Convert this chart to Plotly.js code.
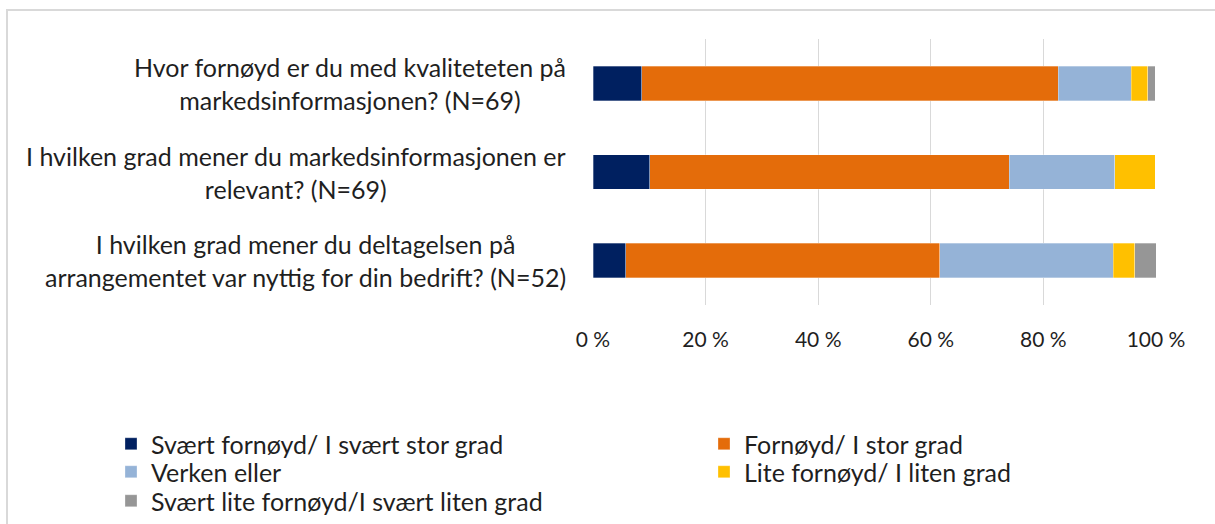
<!DOCTYPE html>
<html>
<head>
<meta charset="utf-8">
<script src="https://cdn.plot.ly/plotly-3.0.1.min.js"></script>
<style>
  html, body { margin: 0; padding: 0; background: #ffffff; }
  #wrap { position: relative; width: 1215px; height: 524px; overflow: hidden; }
  #chart { position: absolute; left: 0; top: 0; width: 1215px; height: 524px; }
  #bt { position: absolute; left: 6px; top: 9px; width: 1209px; height: 2px; background: #d9d9d9; }
  #bl { position: absolute; left: 6px; top: 9px; width: 2px; height: 515px; background: #d9d9d9; }
</style>
</head>
<body>
<div id="wrap">
  <div id="chart"></div>
  <div id="bt"></div>
  <div id="bl"></div>
</div>
<script>
const categories = [
  "Hvor fornøyd er du med kvaliteteten på<br>markedsinformasjonen? (N=69)",
  "I hvilken grad mener du markedsinformasjonen er<br>relevant? (N=69)",
  "I hvilken grad mener du deltagelsen på<br>arrangementet var nyttig for din bedrift? (N=52)"
];
const seriesNames = [
  "Svært fornøyd/ I svært stor grad",
  "Fornøyd/ I stor grad",
  "Verken eller",
  "Lite fornøyd/ I liten grad",
  "Svært lite fornøyd/I svært liten grad"
];
const sværtFornøyd = [8.7, 10.1, 5.8];
const fornøyd = [73.9, 63.8, 55.8];
const verkenEller = [13.0, 18.8, 30.8];
const liteFornøyd = [2.9, 7.2, 3.8];
const sværtLiteFornøyd = [1.4, 0.0, 3.8];
const tickValues = [0, 20, 40, 60, 80, 100];
const tickLabels = ["0 %", "20 %", "40 %", "60 %", "80 %", "100 %"];

const colors = ["#002060", "#E46C0A", "#95B3D7", "#FFC000", "#969696"];
const seriesValues = [sværtFornøyd, fornøyd, verkenEller, liteFornøyd, sværtLiteFornøyd];
const catIds = categories.map((c, i) => "c" + i);

const font = "Lato, 'Open Sans', sans-serif";
const textColor = "#1f1f1f";

// legend grid placement (pixels in the 1215x524 page)
const W = 1215, H = 524;
const legendPos = [
  [111, 444], [704, 444],
  [111, 472], [704, 472],
  [111, 501]
];
const legendIds = ["legend", "legend2", "legend3", "legend4", "legend5"];

const data = seriesValues.map((vals, i) => ({
  type: "bar",
  orientation: "h",
  name: seriesNames[i],
  legend: legendIds[i],
  y: catIds,
  x: vals,
  width: 0.39,
  marker: { color: colors[i], line: { color: "rgba(255,255,255,0.6)", width: 0.5 } },
  hoverinfo: "x+name"
}));

const annotations = categories.map((c, i) => ({
  xref: "paper", yref: "y",
  x: 0, y: catIds[i],
  xanchor: "right", yanchor: "middle",
  xshift: -25,
  align: "center",
  text: c,
  showarrow: false,
  font: { family: font, size: 25, color: textColor }
}));

const layout = {
  width: W, height: H,
  margin: { l: 593, r: 59, t: 39, b: 219, pad: 0, autoexpand: false },
  paper_bgcolor: "#ffffff",
  plot_bgcolor: "#ffffff",
  barmode: "stack",
  showlegend: true,
  xaxis: {
    range: [0, 100],
    tickvals: tickValues,
    ticktext: tickLabels,
    showgrid: true,
    gridcolor: "#d9d9d9",
    gridwidth: 1,
    zeroline: false,
    showline: false,
    ticks: "",
    ticklabelstandoff: 20,
    tickfont: { family: font, size: 21, color: textColor },
    fixedrange: true
  },
  yaxis: {
    type: "category",
    categoryorder: "array",
    categoryarray: catIds,
    autorange: "reversed",
    showticklabels: false,
    showgrid: false,
    zeroline: false,
    showline: false,
    ticks: "",
    fixedrange: true
  },
  annotations: annotations
};

legendIds.forEach((id, i) => {
  layout[id] = {
    xref: "container", yref: "container",
    x: legendPos[i][0] / W, xanchor: "left",
    y: 1 - legendPos[i][1] / H, yanchor: "middle",
    orientation: "v",
    itemwidth: 30,
    font: { family: font, size: 25, color: textColor },
    bgcolor: "rgba(0,0,0,0)",
    borderwidth: 0
  };
});

Plotly.newPlot("chart", data, layout, { displayModeBar: false, staticPlot: true });
</script>
</body>
</html>
